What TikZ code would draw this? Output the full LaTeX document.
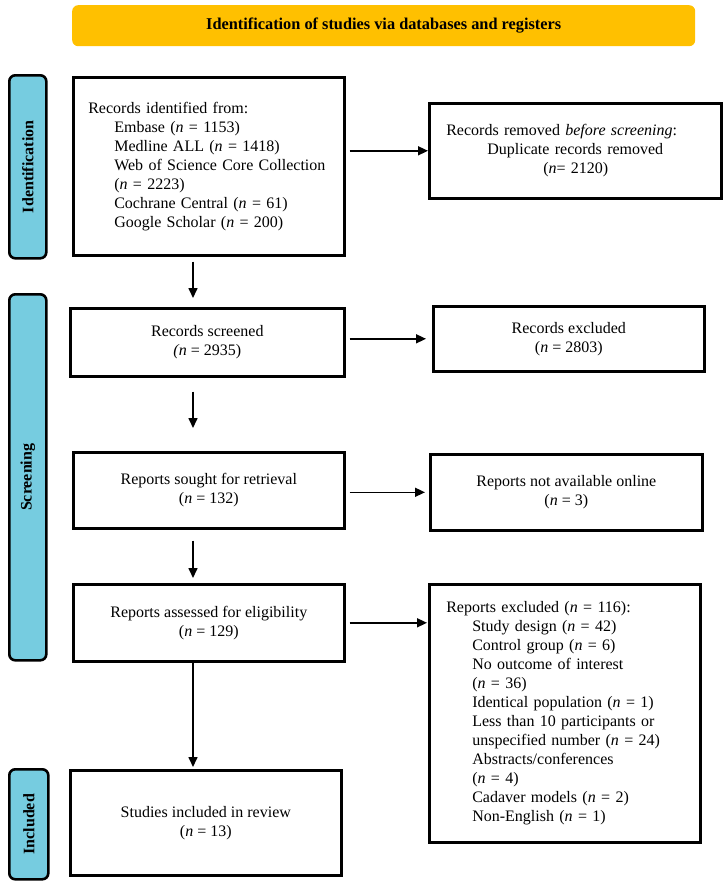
\documentclass[tikz,border=0pt]{standalone}
\usepackage{fontspec}
\setmainfont{Liberation Serif}
\usepackage{graphicx}
\usetikzlibrary{arrows.meta}
\definecolor{gold}{RGB}{255,192,0}
\definecolor{sideblue}{RGB}{118,204,224}
\begin{document}
\begin{tikzpicture}[x=1pt,y=-1pt,
  box/.style={draw, line width=2.6pt, anchor=north west, inner sep=0pt,
    font=\fontsize{16}{19}\selectfont, align=center},
  lbox/.style={box, align=left},
  side/.style={draw, line width=2.6pt, fill=sideblue, rounded corners=6pt,
    anchor=north west, inner sep=0pt, font=\fontsize{16}{19}\selectfont\bfseries},
  arr/.style={line width=1.6pt, -{Triangle[length=10pt,width=9pt]}}]
\useasboundingbox (0,0) rectangle (726,886);

% banner
\node[fill=gold, rounded corners=6pt, minimum width=623pt, minimum height=41pt,
  anchor=north west, inner sep=0pt] (ban) at (72,5)
  {\resizebox{355pt}{\height}{\fontsize{16.5}{20}\selectfont\bfseries Identification of studies via databases and registers}};

% side labels
\node[side, minimum width=37pt, minimum height=183pt] (sid) at (8,74) {\rotatebox{90}{Identification}};
\node[side, minimum width=37pt, minimum height=366pt] (sscr) at (8,293) {\rotatebox{90}{Screening}};
\node[side, minimum width=39pt, minimum height=110pt] (sinc) at (8,768) {\rotatebox{90}{Included}};

% left column
\node[lbox, minimum width=271pt, minimum height=178pt, text width=241pt] (rec) at (72,76)
  {Records identified from:\\
   \hspace*{26pt}Embase (\textit{n} = 1153)\\
   \hspace*{26pt}Medline ALL (\textit{n} = 1418)\\
   \hspace*{26pt}Web of Science Core Collection\\
   \hspace*{26pt}(\textit{n} = 2223)\\
   \hspace*{26pt}Cochrane Central (\textit{n} = 61)\\
   \hspace*{26pt}Google Scholar (\textit{n} = 200)};
\node[box, minimum width=274pt, minimum height=68pt] (scr) at (69,307)
  {Records screened\\ \textit{(n} = 2935)};
\node[box, minimum width=271pt, minimum height=76pt] (sou) at (72,451)
  {Reports sought for retrieval\\ (\textit{n} = 132)};
\node[box, minimum width=271pt, minimum height=77pt] (ass) at (72,583)
  {Reports assessed for eligibility\\ (\textit{n} = 129)};
\node[box, minimum width=271pt, minimum height=105pt] (inc) at (69,769)
  {Studies included in review\\ (\textit{n} = 13)};

% right column
\node[lbox, minimum width=292pt, minimum height=95pt, text width=258pt] (rem) at (428,102)
  {Records removed \textit{before screening}:\\
   \hspace*{41pt}Duplicate records removed\\
   \hspace*{97pt}(\textit{n}= 2120)};
\node[box, minimum width=271pt, minimum height=65pt] (exc) at (432,305)
  {Records excluded\\ (\textit{n} = 2803)};
\node[box, minimum width=272pt, minimum height=76pt] (nav) at (429,453)
  {Reports not available online\\ (\textit{n} = 3)};
\node[lbox, minimum width=271pt, minimum height=258pt, text width=237pt] (rex) at (428,583)
  {Reports excluded (\textit{n} = 116):\\
   \hspace*{26pt}Study design (\textit{n} = 42)\\
   \hspace*{26pt}Control group (\textit{n} = 6)\\
   \hspace*{26pt}No outcome of interest\\
   \hspace*{26pt}(\textit{n} = 36)\\
   \hspace*{26pt}Identical population (\textit{n} = 1)\\
   \hspace*{26pt}Less than 10 participants or\\
   \hspace*{26pt}unspecified number (\textit{n} = 24)\\
   \hspace*{26pt}Abstracts/conferences\\
   \hspace*{26pt}(\textit{n} = 4)\\
   \hspace*{26pt}Cadaver models (\textit{n} = 2)\\
   \hspace*{26pt}Non-English (\textit{n} = 1)};

% vertical arrows
\coordinate (ax) at (193,0);
\draw[arr, shorten <=5pt, shorten >=9pt] (rec.south -| ax) -- (scr.north -| ax);
\draw[arr, shorten <=14pt, shorten >=23pt] (scr.south -| ax) -- (sou.north -| ax);
\draw[arr, shorten <=11pt, shorten >=5pt] (sou.south -| ax) -- (ass.north -| ax);
\draw[arr, shorten >=2pt] (ass.south -| ax) -- (inc.north -| ax);

% horizontal arrows
\draw[arr, shorten <=4pt] (rec.east |- rem.west) -- (rem.west);
\draw[arr, shorten <=4pt, shorten >=6pt] (scr.east |- exc.west) -- (exc.west);
\draw[arr, shorten <=4pt, shorten >=4pt] (sou.east |- nav.west) -- (nav.west);
\draw[arr, shorten <=4pt, shorten >=1pt] (ass.east) -- (ass.east -| rex.west);
\end{tikzpicture}
\end{document}
